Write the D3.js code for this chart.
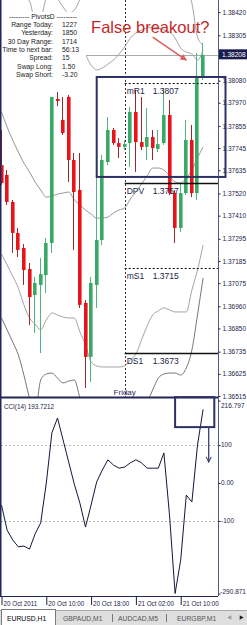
<!DOCTYPE html>
<html>
<head>
<meta charset="utf-8">
<script src="https://cdn.jsdelivr.net/npm/d3@7"></script>
<style>
  body { margin: 0; background: #fff; }
  svg { display: block; font-family: "Liberation Sans", Arial, sans-serif; }
</style>
</head>
<body>
<svg width="247" height="625"></svg>
<script>
// ---- data ----
const startTime = new Date(2011, 9, 20, 2); // first H1 bar
const opens  = [1.37661,1.37612,1.37478,1.37324,1.37249,1.37145,1.37016,1.37066,1.37115,1.37274,1.37989,1.37885,1.37999,1.37686,1.37537,1.36977,1.36709,1.37066,1.37289,1.37676,1.37835,1.37770,1.37751,1.37770,1.37924,1.37775,1.37751,1.37800,1.37741,1.37770,1.37909,1.37522,1.37349,1.37522,1.37785,1.37522,1.38093];
const highs  = [1.37835,1.37636,1.37488,1.37349,1.37269,1.37175,1.37106,1.37200,1.37299,1.37999,1.38024,1.37999,1.38009,1.37721,1.37721,1.36991,1.37106,1.37602,1.37711,1.37899,1.37845,1.37795,1.37785,1.37949,1.38033,1.37999,1.37944,1.37835,1.37835,1.38043,1.37984,1.37537,1.37572,1.37885,1.37860,1.38217,1.38267];
const lows   = [1.37562,1.37463,1.37225,1.37205,1.37066,1.36867,1.36828,1.36728,1.37026,1.37225,1.37954,1.37810,1.37577,1.37240,1.36952,1.36555,1.36585,1.36952,1.37264,1.37661,1.37761,1.37696,1.37736,1.37651,1.37627,1.37736,1.37686,1.37686,1.37726,1.37761,1.37512,1.37274,1.37329,1.37512,1.37502,1.37488,1.38083];
const closes = [1.37572,1.37478,1.37324,1.37240,1.37140,1.37006,1.37076,1.37120,1.37274,1.37999,1.37979,1.37820,1.37686,1.37527,1.36967,1.36709,1.37076,1.37289,1.37686,1.37835,1.37770,1.37751,1.37765,1.37924,1.37775,1.37751,1.37800,1.37746,1.37765,1.37909,1.37522,1.37349,1.37522,1.37785,1.37522,1.38093,1.38207];

const bandOuterUpper = [1.38629,1.38604,1.38554,1.38520,1.38495,1.38475,1.38381,1.38391,1.38495,1.38554,1.38490,1.38445,1.38415,1.38430,1.38485,1.38579,1.38629,1.38654,1.38669,1.38678,1.38678,1.38678,1.38678,1.38678,1.38678,1.38678,1.38678,1.38678,1.38678,1.38669,1.38654,1.38629,1.38579,1.38540,1.38465,1.38296,1.38257];
const bandUpper = [1.38306,1.38282,1.38257,1.38242,1.38232,1.38222,1.38207,1.38192,1.38182,1.38182,1.38192,1.38207,1.38232,1.38257,1.38257,1.38207,1.38157,1.38133,1.38143,1.38162,1.38182,1.38212,1.38247,1.38291,1.38316,1.38331,1.38341,1.38346,1.38341,1.38331,1.38321,1.38291,1.38242,1.38222,1.38212,1.38182,1.38232];
const bandMiddle = [1.37924,1.37850,1.37785,1.37726,1.37671,1.37627,1.37577,1.37537,1.37502,1.37507,1.37517,1.37522,1.37527,1.37488,1.37463,1.37438,1.37418,1.37398,1.37398,1.37403,1.37423,1.37438,1.37448,1.37493,1.37527,1.37567,1.37607,1.37646,1.37646,1.37636,1.37607,1.37577,1.37572,1.37597,1.37636,1.37696,1.37751];
const bandLower = [1.37220,1.37165,1.37110,1.37051,1.36967,1.36902,1.36872,1.36843,1.36892,1.36927,1.36917,1.36907,1.36902,1.36902,1.36833,1.36768,1.36684,1.36664,1.36659,1.36659,1.36659,1.36659,1.36664,1.36694,1.36723,1.36793,1.36862,1.36917,1.36937,1.36952,1.36942,1.36932,1.36932,1.36932,1.37041,1.37140,1.37264];
const bandOuterLower = [1.36902,1.36843,1.36783,1.36719,1.36619,1.36505,1.36436,1.36594,1.36624,1.36629,1.36604,1.36580,1.36589,1.36594,1.36505,1.36396,1.36322,1.36297,1.36287,1.36287,1.36297,1.36317,1.36346,1.36371,1.36396,1.36436,1.36485,1.36545,1.36604,1.36624,1.36629,1.36629,1.36619,1.36654,1.36743,1.36917,1.37101];

const cciValues = [-58,-124,-150,-168,-166,-174,-134,-105,0,132,171,113,55,-3,-53,-116,-58,3,34,61,47,39,42,53,61,53,39,39,39,79,-84,-290.871,-203,-32,-50,100,193.7212];

const priceTicks = [1.38420,1.38305,1.38080,1.37970,1.37855,1.37745,1.37635,1.37520,1.37410,1.37295,1.37185,1.37075,1.36960,1.36850,1.36735,1.36625,1.36515];
const cciTicks = [216.797, 100, 0, -100, -290.871];
const cciTickLabels = ['216.797', '100', '0.00', '-100', '-290.871'];
const timeTickBars = [0, 8, 16, 24, 32];
const timeLabels = ['20 Oct 2011', '20 Oct 10:00', '20 Oct 18:00', '21 Oct 02:00', '21 Oct 10:00'];

const infoLabels = ['Range  Today:', 'Yesterday:', '30 Day Range:', 'Time to next bar:', 'Spread:', 'Swap  Long:', 'Swap  Short:'];
const infoValues = ['1227', '1850', '1714', '56:13', '15', '1.50', '-3.20'];

const pivotNames  = ['mR1', 'DPV', 'mS1', 'DS1'];
const pivotValues = [1.3807, 1.3757, 1.3715, 1.3673];
const pivotDashed = [true, false, true, false];

const bidPrice = 1.38208;
const cciLast = 193.7212;
const fridayBar = 22;
const tabs = ['EURUSD,H1', 'GBPAUD,M1', 'AUDCAD,M5', 'EURGBP,M1'];

// ---- setup ----
const svg = d3.select('svg');
const width = +svg.attr('width');
const height = +svg.attr('height');

const plotLeft = 1, plotRight = 218;
const mainTop = 0, mainBottom = 397;
const cciTop = 398, cciBottom = 596;
const navy = '#23265a';
const textCol = '#1c1c48';

const dates = opens.map((d, i) => d3.timeHour.offset(startTime, i));
const candles = dates.map((t, i) => ({ t, o: opens[i], h: highs[i], l: lows[i], c: closes[i] }));

const xScale = d3.scaleTime()
    .domain([startTime, d3.timeHour.offset(startTime, 36)])
    .range([1.5, 203.1]);

const yPrice = d3.scaleLinear()
    .domain([1.36510, 1.38480])
    .range([mainBottom, mainTop]);

const yCci = d3.scaleLinear()
    .domain([-290.871, 216.797])
    .range([593.5, 400.6]);

const barAt = i => d3.timeHour.offset(startTime, i);

svg.append('rect').attr('width', width).attr('height', height).attr('fill', '#fff');

const defs = svg.append('defs');
defs.append('clipPath').attr('id', 'clipMain')
    .append('rect').attr('x', plotLeft).attr('y', mainTop)
    .attr('width', plotRight - plotLeft).attr('height', mainBottom - mainTop);
defs.append('clipPath').attr('id', 'clipCci')
    .append('rect').attr('x', plotLeft).attr('y', cciTop)
    .attr('width', plotRight - plotLeft).attr('height', cciBottom - cciTop);

// ---- main panel ----
const main = svg.append('g').attr('clip-path', 'url(#clipMain)');

// friday separator
main.append('line')
    .attr('x1', Math.round(xScale(barAt(fridayBar))) + 0.5)
    .attr('x2', Math.round(xScale(barAt(fridayBar))) + 0.5)
    .attr('y1', mainTop).attr('y2', mainBottom)
    .attr('stroke', '#333').attr('stroke-dasharray', '2,2');

// envelope lines
const bandLine = arr => d3.line()
    .x((d, i) => xScale(dates[i]))
    .y(d => yPrice(d))
    .curve(d3.curveMonotoneX)(arr);

[[bandOuterUpper, '#9a9a9a'], [bandUpper, '#9a9a9a'], [bandMiddle, '#8a8a8a'],
 [bandLower, '#9a9a9a'], [bandOuterLower, '#666']].forEach(([arr, col]) => {
    main.append('path')
        .attr('d', bandLine(arr))
        .attr('fill', 'none')
        .attr('stroke', col)
        .attr('stroke-width', 0.9);
});

// bid line
main.append('line')
    .attr('x1', 86).attr('x2', plotRight)
    .attr('y1', Math.round(yPrice(bidPrice)) + 0.5).attr('y2', Math.round(yPrice(bidPrice)) + 0.5)
    .attr('stroke', '#aaa');

// candles
const cg = main.append('g');
cg.selectAll('rect.wick').data(candles)
    .enter().append('rect')
    .attr('class', 'wick')
    .attr('x', d => Math.round(xScale(d.t)) - 1)
    .attr('width', 1)
    .attr('y', d => yPrice(d.h))
    .attr('height', d => yPrice(d.l) - yPrice(d.h))
    .attr('fill', d => d.c >= d.o ? '#52b57c' : '#9a2a2a');

cg.selectAll('rect.body').data(candles)
    .enter().append('rect')
    .attr('class', 'body')
    .attr('x', d => Math.round(xScale(d.t)) - 2)
    .attr('width', 3.6)
    .attr('y', d => yPrice(Math.max(d.o, d.c)))
    .attr('height', d => Math.max(1, Math.abs(yPrice(d.o) - yPrice(d.c))))
    .attr('fill', d => d.c >= d.o ? '#3aa866' : '#e8141c');

// pivot levels
const pivotX = xScale(barAt(fridayBar));
pivotValues.forEach((p, i) => {
    const y = Math.round(yPrice(p)) + 0.5;
    main.append('line')
        .attr('x1', pivotX).attr('x2', plotRight)
        .attr('y1', y).attr('y2', y)
        .attr('stroke', '#111')
        .attr('stroke-width', pivotDashed[i] ? 1 : 1.3)
        .attr('stroke-dasharray', pivotDashed[i] ? '2,2' : null);
    main.append('text')
        .attr('x', pivotX + 2).attr('y', y + 10)
        .attr('font-size', 8.5).attr('fill', textCol)
        .text(pivotNames[i]);
    main.append('text')
        .attr('x', pivotX + 28).attr('y', y + 10)
        .attr('font-size', 8.5).attr('fill', textCol)
        .text(p.toFixed(4));
});

// Friday label
main.append('text')
    .attr('x', xScale(barAt(fridayBar)))
    .attr('y', mainBottom - 2)
    .attr('text-anchor', 'middle')
    .attr('font-size', 8).attr('fill', '#2a2a5a')
    .text('Friday');

// info panel
const info = svg.append('g');
info.append('rect').attr('x', 2).attr('y', 12).attr('width', 84).attr('height', 68).attr('fill', '#fff');
info.append('text')
    .attr('x', 43).attr('y', 18.5)
    .attr('text-anchor', 'middle').attr('font-size', 6.8).attr('fill', '#222')
    .text('---------  PivotsD  ---------');
infoLabels.forEach((lab, i) => {
    info.append('text')
        .attr('x', 53).attr('y', 26.8 + i * 8.35)
        .attr('text-anchor', 'end').attr('font-size', 6.8).attr('fill', '#222')
        .text(lab);
    info.append('text')
        .attr('x', 62).attr('y', 26.8 + i * 8.35)
        .attr('font-size', 6.8).attr('fill', '#222')
        .text(infoValues[i]);
});

// ---- CCI panel ----
const cci = svg.append('g').attr('clip-path', 'url(#clipCci)');
[100, -100].forEach(v => {
    cci.append('line')
        .attr('x1', plotLeft).attr('x2', plotRight)
        .attr('y1', Math.round(yCci(v)) + 0.5).attr('y2', Math.round(yCci(v)) + 0.5)
        .attr('stroke', '#bbb').attr('stroke-dasharray', '2,2');
});
cci.append('path')
    .attr('d', d3.line().x((d, i) => xScale(dates[i])).y(d => yCci(d))(cciValues))
    .attr('fill', 'none')
    .attr('stroke', '#15163a')
    .attr('stroke-width', 1);

svg.append('text')
    .attr('x', 4).attr('y', 409)
    .attr('font-size', 6.3).attr('fill', textCol)
    .text('CCI(14) ' + cciLast.toFixed(4));

// ---- frame ----
svg.append('line').attr('x1', 0.75).attr('x2', 0.75).attr('y1', 0).attr('y2', cciBottom)
    .attr('stroke', navy).attr('stroke-width', 1.5);
svg.append('line').attr('x1', 0).attr('x2', plotRight).attr('y1', mainBottom + 0.5).attr('y2', mainBottom + 0.5)
    .attr('stroke', navy).attr('stroke-width', 2);
svg.append('line').attr('x1', 0).attr('x2', plotRight).attr('y1', cciBottom + 0.5).attr('y2', cciBottom + 0.5)
    .attr('stroke', navy).attr('stroke-width', 1);
svg.append('line').attr('x1', plotRight + 0.5).attr('x2', plotRight + 0.5).attr('y1', 0).attr('y2', cciBottom)
    .attr('stroke', '#555a80').attr('stroke-width', 1);

// ---- axes ----
const priceAxis = d3.axisRight(yPrice)
    .tickValues(priceTicks)
    .tickFormat(d3.format('.5f'))
    .tickSize(2)
    .tickPadding(2);
const priceAxisG = svg.append('g')
    .attr('transform', `translate(${plotRight + 0.5},0)`)
    .call(priceAxis);
priceAxisG.select('.domain').remove();
priceAxisG.selectAll('text').attr('font-size', 6.5).attr('fill', textCol).attr('font-family', '"Liberation Sans", Arial, sans-serif');
priceAxisG.selectAll('line').attr('stroke', textCol);

// current bid marker
const bidY = yPrice(bidPrice);
svg.append('rect')
    .attr('x', plotRight + 1).attr('y', bidY - 5.5)
    .attr('width', width - plotRight - 1).attr('height', 10)
    .attr('fill', '#1a1d4e');
svg.append('text')
    .attr('x', plotRight + 4).attr('y', bidY + 2.3)
    .attr('font-size', 6.5).attr('fill', '#fff')
    .text(bidPrice.toFixed(5));

// CCI scale: tick marks from the axis, labels placed explicitly
const cciAxis = d3.axisRight(yCci)
    .tickValues(cciTicks)
    .tickFormat('')
    .tickSize(2);
const cciAxisG = svg.append('g')
    .attr('transform', `translate(${plotRight + 0.5},0)`)
    .call(cciAxis);
cciAxisG.select('.domain').remove();
cciAxisG.selectAll('line').attr('stroke', textCol);
const cciLabelDy = [7, 2.3, 2.3, 2.3, 0.5];
svg.append('g').selectAll('text').data(cciTicks)
    .enter().append('text')
    .attr('x', (d, i) => i === 4 ? width - 1 : plotRight + 3)
    .attr('y', (d, i) => yCci(d) + cciLabelDy[i])
    .attr('text-anchor', (d, i) => i === 4 ? 'end' : 'start')
    .attr('font-size', 6.5).attr('fill', textCol)
    .text((d, i) => cciTickLabels[i]);

const timeAxis = d3.axisBottom(xScale)
    .tickValues(timeTickBars.map(barAt))
    .tickFormat((d, i) => timeLabels[i])
    .tickSize(9);
const timeAxisG = svg.append('g')
    .attr('transform', `translate(0,${cciBottom})`)
    .call(timeAxis);
timeAxisG.select('.domain').remove();
timeAxisG.selectAll('line').attr('stroke', textCol);
timeAxisG.selectAll('text')
    .attr('text-anchor', 'start').attr('x', 1.5).attr('y', 5.5)
    .attr('font-size', 6.3).attr('fill', textCol)
    .attr('font-family', '"Liberation Sans", Arial, sans-serif');

// ---- annotations (drawn objects, placed in data units) ----
const ann = svg.append('g');
ann.append('rect')
    .attr('x', xScale(barAt(17.4))).attr('y', yPrice(1.38098))
    .attr('width', xScale(barAt(40.7)) - xScale(barAt(17.4)))
    .attr('height', yPrice(1.37602) - yPrice(1.38098))
    .attr('fill', 'none').attr('stroke', '#2e3163').attr('stroke-width', 2);
ann.append('rect')
    .attr('x', xScale(barAt(31.3))).attr('y', yCci(226))
    .attr('width', xScale(barAt(38.3)) - xScale(barAt(31.3)))
    .attr('height', yCci(147) - yCci(226))
    .attr('fill', 'none').attr('stroke', '#2e3163').attr('stroke-width', 2);

defs.append('marker').attr('id', 'arrNavy')
    .attr('viewBox', '0 0 10 10').attr('refX', 9).attr('refY', 5)
    .attr('markerWidth', 5).attr('markerHeight', 5).attr('orient', 'auto')
    .append('path').attr('d', 'M1,1 L9,5 L1,9').attr('fill', 'none').attr('stroke', '#3a3d70').attr('stroke-width', 1.6);
defs.append('marker').attr('id', 'arrRed')
    .attr('viewBox', '0 0 10 10').attr('refX', 9).attr('refY', 5)
    .attr('markerWidth', 4.5).attr('markerHeight', 4.5).attr('orient', 'auto')
    .append('path').attr('d', 'M0,0 L10,5 L0,10 Z').attr('fill', '#e05a5a');

ann.append('line')
    .attr('x1', xScale(barAt(37.4))).attr('x2', xScale(barAt(37.4)))
    .attr('y1', yCci(147)).attr('y2', yCci(55))
    .attr('stroke', '#3a3d70').attr('stroke-width', 1.3)
    .attr('marker-end', 'url(#arrNavy)');

ann.append('line')
    .attr('x1', xScale(barAt(27.6))).attr('y1', yPrice(1.38296))
    .attr('x2', xScale(barAt(33.9))).attr('y2', yPrice(1.38182))
    .attr('stroke', '#e05a5a').attr('stroke-width', 1.4)
    .attr('marker-end', 'url(#arrRed)');

ann.append('text')
    .attr('x', xScale(barAt(16.7))).attr('y', yPrice(1.38316))
    .attr('font-size', 16.5).attr('fill', '#c62828')
    .text('False breakout?');

// ---- tab bar ----
const tabG = svg.append('g');
tabG.append('rect').attr('x', 0).attr('y', 610).attr('width', width).attr('height', 15).attr('fill', '#dedede');
tabG.append('line').attr('x1', 0).attr('x2', width).attr('y1', 610.5).attr('y2', 610.5).attr('stroke', '#a8a8a8');
tabG.append('rect').attr('x', 1.5).attr('y', 609.5).attr('width', 54).attr('height', 16)
    .attr('fill', '#fff').attr('stroke', '#7a7a7a');
const tabX = [7, 63, 118, 177];
tabs.forEach((t, i) => {
    tabG.append('text')
        .attr('x', tabX[i]).attr('y', 620.5)
        .attr('font-size', 6.8).attr('fill', i === 0 ? '#000' : '#555')
        .text(t);
});
[112, 166].forEach(x => {
    tabG.append('line').attr('x1', x + 0.5).attr('x2', x + 0.5).attr('y1', 614).attr('y2', 622).attr('stroke', '#777');
});
tabG.append('path')
    .attr('d', d3.symbol(d3.symbolTriangle).size(9)())
    .attr('transform', 'translate(230,617.5) rotate(-90)').attr('fill', '#999');
tabG.append('path')
    .attr('d', d3.symbol(d3.symbolTriangle).size(9)())
    .attr('transform', 'translate(241,617.5) rotate(90)').attr('fill', '#222');
</script>
</body>
</html>
